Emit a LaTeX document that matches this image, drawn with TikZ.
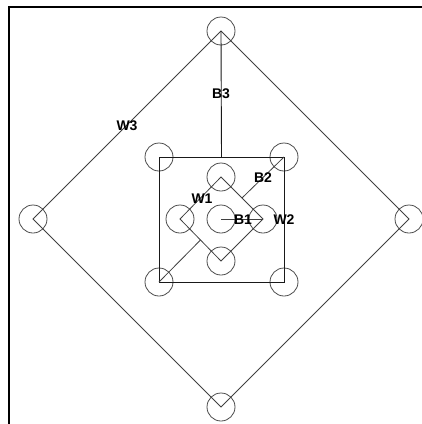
\documentclass[tikz,border=0pt]{standalone}
\usepackage{fontspec}
\setmainfont{Liberation Sans}
\usetikzlibrary{calc}
\begin{document}
\begin{tikzpicture}[x=1pt, y=-1pt,
	ring/.style = {circle, draw = black!70, line width = 0.8pt, minimum size = 28pt, inner sep = 0pt},
	lbl/.style = {font = \bfseries\fontsize{14}{16}\selectfont, inner sep = 0pt}]
	\useasboundingbox (0,0) rectangle (422,424);
	\draw [line width = 2pt] (9,424) -- (9,7) -- (422,7);
	% outer ring
	\node [ring] (ot) at (221,31) {};
	\node [ring] (ol) at (33,219) {};
	\node [ring] (or) at (409,219) {};
	\node [ring] (ob) at (221,407) {};
	% square corners
	\node [ring] (stl) at (159,157) {};
	\node [ring] (str) at (284,157) {};
	\node [ring] (sbl) at (159,282) {};
	\node [ring] (sbr) at (284,282) {};
	% inner ring
	\node [ring] (it) at (221,177) {};
	\node [ring] (il) at (180,219) {};
	\node [ring] (ir) at (263,219) {};
	\node [ring] (ib) at (221,261) {};
	\node [ring] (c) at (221,219) {};
	\draw [black!75, line width = 0.8pt] (ot.center) -- (ol.center) -- (ob.center) -- (or.center) -- cycle;
	\draw [black!75, line width = 0.8pt] (it.center) -- (il.center) -- (ib.center) -- (ir.center) -- cycle;
	\draw [black!90, line width = 0.9pt] (stl.center) -- (str.center) -- (sbr.center) -- (sbl.center) -- cycle;
	\coordinate (stop) at ($(stl.center)!0.5!(str.center)$);
	\coordinate (dlo) at ($(il.center)!0.5!(ib.center)$);
	\coordinate (dup) at ($(it.center)!0.5!(ir.center)$);
	\draw [black!90, line width = 0.9pt] (stop) -- (ot.center);
	\draw [black!75, line width = 0.8pt] (sbl.center) -- (dlo);
	\draw [black!75, line width = 0.8pt] (dup) -- (str.center);
	\draw [black!75, line width = 0.8pt] (c.center) -- (ir.center);
	% labels
	\node [lbl] (w3) at (127,126) {W3};
	\node [lbl] (b3) at (221,94) {B3};
	\node [lbl] (b2) at (263,178) {B2};
	\node [lbl] (w1) at (202,199) {W1};
	\node [lbl] (b1) at (243,220) {B1};
	\node [lbl] (w2) at (284,220) {W2};
\end{tikzpicture}
\end{document}
